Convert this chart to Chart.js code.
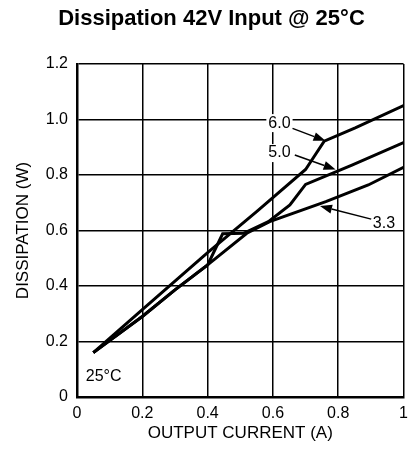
<!DOCTYPE html>
<html>
<head>
<meta charset="utf-8">
<title>Dissipation 42V Input</title>
<script src="https://cdn.jsdelivr.net/npm/chart.js@4.4.1/dist/chart.umd.min.js"></script>
<style>
  body { margin: 0; background: #fff; }
  canvas { display: block; }
</style>
</head>
<body>
<canvas id="chart" width="415" height="460"></canvas>
<script>
// Dissipation vs output current at 42V input, one curve per output voltage

const current60 = [0.05, 0.2, 0.4, 0.55, 0.7, 0.757, 0.852, 1.0];
const power60 = [0.16, 0.315, 0.52, 0.668, 0.82, 0.922, 0.97, 1.05];

const current50 = [0.05, 0.2, 0.3, 0.4, 0.446, 0.51, 0.586, 0.652, 0.7, 0.842, 1.0];
const power50 = [0.16, 0.29, 0.386, 0.476, 0.588, 0.59, 0.632, 0.692, 0.766, 0.836, 0.917];

const current33 = [0.05, 0.2, 0.3, 0.4, 0.52, 0.59, 0.762, 0.892, 1.0];
const power33 = [0.16, 0.29, 0.386, 0.476, 0.59, 0.632, 0.704, 0.764, 0.828];

const xTickLabels = ["0", "0.2", "0.4", "0.6", "0.8", "1"];
const yTickLabels = ["0", "0.2", "0.4", "0.6", "0.8", "1.0", "1.2"];

const curveNames = ["6.0", "5.0", "3.3"];

const FONT = "'Liberation Sans', Arial, sans-serif";
Chart.defaults.font.family = FONT;
Chart.defaults.color = "#000";

function toPoints(xs, ys) {
  return xs.map((x, i) => ({ x: x, y: ys[i] }));
}

function curve(label, xs, ys) {
  return {
    label: label,
    data: toPoints(xs, ys),
    borderColor: "#000",
    borderWidth: 3,
    pointRadius: 0,
    tension: 0,
    fill: false,
  };
}

// label placement (data coords) and arrow start -> tip
const callouts = [
  { text: curveNames[0], at: [0.62, 0.987], from: [0.66, 0.968], to: [0.761, 0.923], bg: true },
  { text: curveNames[1], at: [0.62, 0.879], from: [0.667, 0.872], to: [0.792, 0.82], bg: true },
  { text: curveNames[2], at: [0.94, 0.626], from: [0.901, 0.641], to: [0.744, 0.688], bg: false },
];

const calloutPlugin = {
  id: "callouts",
  beforeDatasetsDraw(chart) {
    const ctx = chart.ctx;
    const xs = chart.scales.x;
    const ys = chart.scales.y;
    ctx.save();
    ctx.font = "16px " + FONT;
    callouts.forEach((c) => {
      if (!c.bg) return;
      const w = ctx.measureText(c.text).width;
      const px = xs.getPixelForValue(c.at[0]);
      const py = ys.getPixelForValue(c.at[1]);
      ctx.fillStyle = "#fff";
      ctx.fillRect(px - w / 2 - 2, py - 9, w + 4, 18);
    });
    ctx.restore();
  },
  afterDatasetsDraw(chart) {
    const ctx = chart.ctx;
    const xs = chart.scales.x;
    const ys = chart.scales.y;
    ctx.save();
    ctx.font = "16px " + FONT;
    ctx.fillStyle = "#000";
    ctx.strokeStyle = "#000";
    ctx.textAlign = "center";
    ctx.textBaseline = "middle";
    callouts.forEach((c) => {
      ctx.fillText(c.text, xs.getPixelForValue(c.at[0]), ys.getPixelForValue(c.at[1]));
      const x0 = xs.getPixelForValue(c.from[0]);
      const y0 = ys.getPixelForValue(c.from[1]);
      const x1 = xs.getPixelForValue(c.to[0]);
      const y1 = ys.getPixelForValue(c.to[1]);
      const ang = Math.atan2(y1 - y0, x1 - x0);
      const len = 12;
      const half = 4.5;
      ctx.lineWidth = 1.5;
      ctx.beginPath();
      ctx.moveTo(x0, y0);
      ctx.lineTo(x1 - len * Math.cos(ang), y1 - len * Math.sin(ang));
      ctx.stroke();
      ctx.beginPath();
      ctx.moveTo(x1, y1);
      ctx.lineTo(
        x1 - len * Math.cos(ang) + half * Math.sin(ang),
        y1 - len * Math.sin(ang) - half * Math.cos(ang)
      );
      ctx.lineTo(
        x1 - len * Math.cos(ang) - half * Math.sin(ang),
        y1 - len * Math.sin(ang) + half * Math.cos(ang)
      );
      ctx.closePath();
      ctx.fill();
    });
    // temperature note in the lower left corner
    ctx.textAlign = "left";
    ctx.fillText("25°C", xs.getPixelForValue(0.027), ys.getPixelForValue(0.072));
    ctx.restore();
  },
};

new Chart(document.getElementById("chart"), {
  type: "line",
  data: {
    datasets: [
      curve(curveNames[0], current60, power60),
      curve(curveNames[1], current50, power50),
      curve(curveNames[2], current33, power33),
    ],
  },
  options: {
    responsive: false,
    animation: false,
    devicePixelRatio: 1,
    layout: { padding: { left: 14, right: 6, top: 0, bottom: 0 } },
    plugins: {
      legend: { display: false },
      tooltip: { enabled: false },
      title: {
        display: true,
        text: "Dissipation 42V Input @ 25°C",
        color: "#000",
        font: { size: 22, weight: "bold", lineHeight: 1.2 },
        padding: { top: 6, bottom: 31.6 },
      },
    },
    scales: {
      x: {
        type: "linear",
        min: 0,
        max: 1,
        afterFit: (scale) => {
          scale.height = 63;
        },
        ticks: {
          stepSize: 0.2,
          padding: 7,
          font: { size: 16 },
          color: "#000",
          maxRotation: 0,
          callback: (value, index) => xTickLabels[index],
        },
        grid: { color: "#000", lineWidth: 1.5, drawTicks: false },
        border: { display: true, color: "#000", width: 2.5 },
        title: {
          display: true,
          text: "OUTPUT CURRENT (A)",
          color: "#000",
          font: { size: 17, lineHeight: 1 },
          padding: { top: 0, bottom: 18.5 },
        },
      },
      y: {
        type: "linear",
        min: 0,
        max: 1.2,
        afterFit: (scale) => {
          scale.width = 63;
        },
        ticks: {
          stepSize: 0.2,
          padding: 9,
          font: { size: 16 },
          color: "#000",
          callback: (value, index) => yTickLabels[index],
        },
        grid: { color: "#000", lineWidth: 1.5, drawTicks: false },
        border: { display: true, color: "#000", width: 2.5 },
        title: {
          display: true,
          text: "DISSIPATION (W)",
          color: "#000",
          font: { size: 17, lineHeight: 1 },
          padding: { top: 0.5, bottom: 0 },
        },
      },
    },
  },
  plugins: [calloutPlugin],
});
</script>
</body>
</html>
